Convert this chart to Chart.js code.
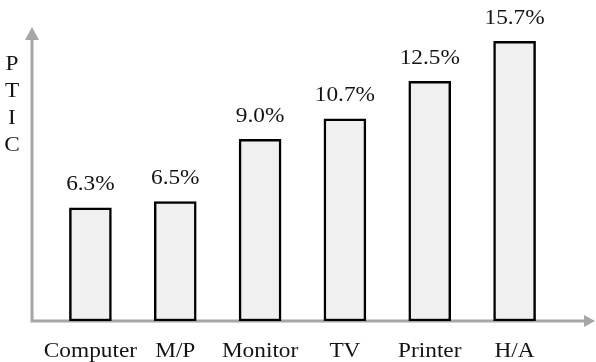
<!DOCTYPE html>
<html>
<head>
<meta charset="utf-8">
<script src="https://cdn.jsdelivr.net/npm/chart.js@4"></script>
<style>
  html, body { margin: 0; padding: 0; background: #fff; }
  #wrap { width: 596px; height: 362px; }
</style>
</head>
<body>
<div id="wrap"><canvas id="chart"></canvas></div>
<script>
// categories along the x axis
const categories = ['Computer', 'M/P', 'Monitor', 'TV', 'Printer', 'H/A'];
// bar heights as drawn in the picture (percent units)
const barHeights = [6.35, 6.7, 10.2, 11.35, 13.45, 15.7];
// value labels printed above each bar
const valueLabels = ['6.3%', '6.5%', '9.0%', '10.7%', '12.5%', '15.7%'];
// stacked letters of the y axis title
const yTitle = ['P', 'T', 'I', 'C'];

const serif = '"Liberation Serif", "Times New Roman", serif';
const axisGray = '#a6a6a6';
const textColor = '#141414';

// text in the reference is a little wider than the font, so stretch it
function wideText(ctx, str, x, y) {
  ctx.save();
  ctx.translate(x, y);
  ctx.scale(1.11, 1);
  ctx.fillText(str, 0, 0);
  ctx.restore();
}

// gray axes with arrowheads, drawn under the bars
const arrowAxes = {
  id: 'arrowAxes',
  beforeDatasetsDraw(chart) {
    const { ctx, chartArea } = chart;
    const x0 = chartArea.left - 16;
    const y0 = chartArea.bottom;
    const yTop = chartArea.top;
    const xEnd = chart.width - 1;
    ctx.save();
    ctx.strokeStyle = axisGray;
    ctx.fillStyle = axisGray;
    ctx.lineWidth = 3;
    ctx.beginPath();
    ctx.moveTo(x0, yTop + 10);
    ctx.lineTo(x0, y0);
    ctx.lineTo(xEnd - 9, y0);
    ctx.stroke();
    // arrow heads
    ctx.beginPath();
    ctx.moveTo(x0, yTop);
    ctx.lineTo(x0 - 7, yTop + 13);
    ctx.lineTo(x0 + 7, yTop + 13);
    ctx.closePath();
    ctx.fill();
    ctx.beginPath();
    ctx.moveTo(xEnd, y0);
    ctx.lineTo(xEnd - 11, y0 - 6);
    ctx.lineTo(xEnd - 11, y0 + 6);
    ctx.closePath();
    ctx.fill();
    ctx.restore();
  }
};

// value labels, category labels and the stacked y title
const barText = {
  id: 'barText',
  afterDatasetsDraw(chart) {
    const { ctx, chartArea } = chart;
    const xScale = chart.scales.x;
    const meta = chart.getDatasetMeta(0);
    ctx.save();
    ctx.fillStyle = textColor;
    ctx.font = '21px ' + serif;
    ctx.textAlign = 'center';
    ctx.textBaseline = 'middle';
    meta.data.forEach((bar, i) => {
      wideText(ctx, valueLabels[i], bar.x, bar.y - 23);
    });
    categories.forEach((name, i) => {
      wideText(ctx, name, xScale.getPixelForValue(i), chartArea.bottom + 30);
    });
    yTitle.forEach((ch, i) => {
      wideText(ctx, ch, 12, 64 + i * 27);
    });
    ctx.restore();
  }
};

new Chart(document.getElementById('chart'), {
  type: 'bar',
  data: {
    labels: categories,
    datasets: [{
      data: barHeights,
      backgroundColor: '#f0f0f0',
      borderColor: '#000',
      borderWidth: 2.5,
      borderSkipped: false,
      barThickness: 42
    }]
  },
  options: {
    responsive: true,
    maintainAspectRatio: false,
    animation: false,
    layout: {
      padding: { top: 27, left: 48, right: 39, bottom: 41 }
    },
    plugins: {
      legend: { display: false },
      tooltip: { enabled: false }
    },
    scales: {
      x: { display: false },
      y: { display: false, min: 0, max: 16.5 }
    }
  },
  plugins: [arrowAxes, barText]
});
</script>
</body>
</html>
